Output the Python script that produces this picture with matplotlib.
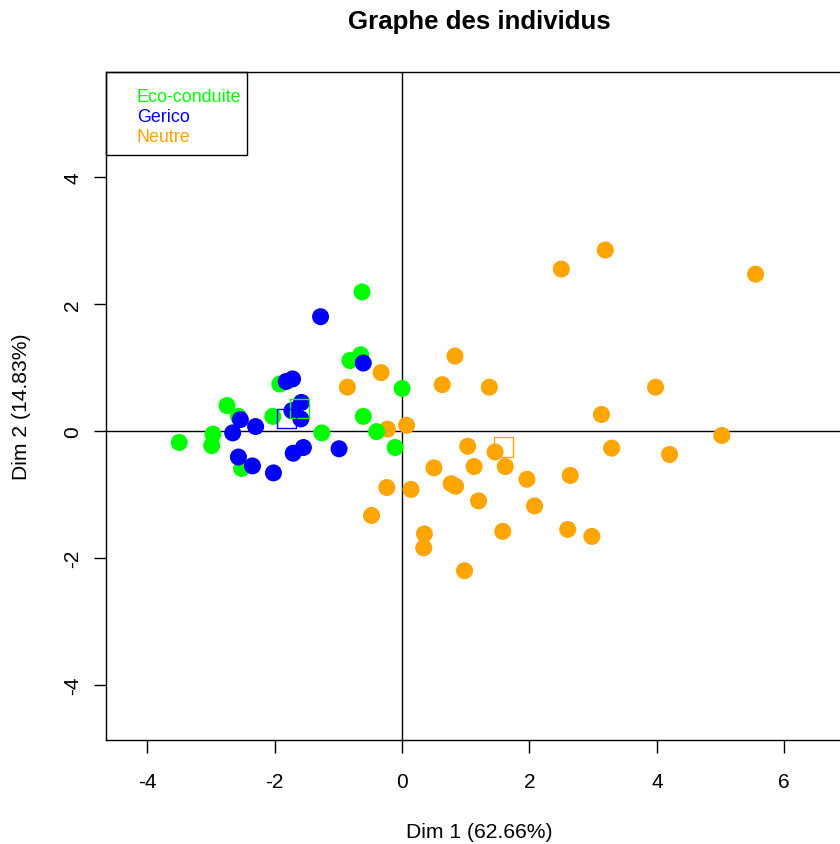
import numpy as np
import matplotlib.pyplot as plt
from matplotlib.patches import Rectangle

plt.rcParams['font.family'] = ['Liberation Sans', 'DejaVu Sans']
plt.rcParams['axes.unicode_minus'] = False

# individual coordinates
neutre_x = [0.83, -0.33, -0.86, 0.63, 1.37, 3.13, -0.23, 0.07, 1.03, 1.46, 3.29, 0.50,
            1.13, 1.62, 1.96, 2.64, -0.24, 0.14, 0.77, 0.84, 1.20, 2.08, -0.48, 0.35,
            0.34, 1.58, 2.60, 2.98, 0.98, 3.19, 2.50, 5.55, 3.98, 5.02, 4.20]
neutre_y = [1.18, 0.92, 0.69, 0.73, 0.69, 0.26, 0.03, 0.09, -0.24, -0.33, -0.27, -0.58,
            -0.56, -0.56, -0.76, -0.70, -0.89, -0.92, -0.83, -0.87, -1.10, -1.18, -1.33, -1.62,
            -1.84, -1.58, -1.55, -1.66, -2.20, 2.85, 2.55, 2.47, 0.69, -0.07, -0.37]

eco_x = [-0.63, -0.82, -0.65, 0.00, -1.92, -2.75, -2.57, -2.03, -0.61, -2.97, -2.99,
         -3.50, -1.26, -0.40, -0.11, -2.52]
eco_y = [2.19, 1.11, 1.20, 0.67, 0.74, 0.40, 0.23, 0.23, 0.23, -0.05, -0.23,
         -0.18, -0.03, -0.01, -0.26, -0.59]

gerico_x = [-1.28, -0.61, -1.82, -1.72, -1.58, -1.73, -1.59, -2.54, -2.30, -2.66, -1.55,
            -1.71, -0.99, -2.57, -2.35, -2.02]
gerico_y = [1.80, 1.07, 0.78, 0.82, 0.45, 0.32, 0.19, 0.18, 0.07, -0.03, -0.26,
            -0.35, -0.28, -0.41, -0.55, -0.66]

groups = ['Eco-conduite', 'Gerico', 'Neutre']
colors = {'Eco-conduite': '#00FF00', 'Gerico': '#0000FF', 'Neutre': '#FFA500'}
data = {'Neutre': (neutre_x, neutre_y),
        'Eco-conduite': (eco_x, eco_y),
        'Gerico': (gerico_x, gerico_y)}

W, H = 840, 845
fig = plt.figure(figsize=(W / 100, H / 100), dpi=100)
left, right, top, bottom = 105.7, 860, 72.7, 741
ax = fig.add_axes([left / W, 1 - bottom / H, (right - left) / W, (bottom - top) / H])

# draw order: Neutre, Eco-conduite, Gerico
for g in ['Neutre', 'Eco-conduite', 'Gerico']:
    x, y = data[g]
    ax.scatter(x, y, s=150, color=colors[g], edgecolors='none', zorder=3)

# group barycentres
for g in groups:
    x, y = data[g]
    ax.scatter(np.mean(x), np.mean(y), s=190, marker='s', facecolors='none',
               edgecolors=colors[g], linewidths=1, zorder=4)

ax.axhline(0, color='black', lw=1, zorder=2)
ax.axvline(0, color='black', lw=1, zorder=2)

ax.set_xlim(-4.654, 7.19)
ax.set_ylim(-4.866, 5.658)
ax.set_xticks([-4, -2, 0, 2, 4, 6])
ax.set_yticks([-4, -2, 0, 2, 4])
ax.tick_params(direction='out', length=9, width=1, labelsize=15, colors='black')
ax.tick_params(axis='x', pad=14)
ax.tick_params(axis='y', pad=8, labelrotation=90)
for lab in ax.get_yticklabels():
    lab.set_va('center')
for sp in ax.spines.values():
    sp.set_linewidth(1)

fig.text(479 / W, 1 - 22 / H, 'Graphe des individus', ha='center', va='center',
         fontsize=18.6, fontweight='bold')
fig.text(479 / W, 1 - 833 / H, 'Dim 1 (62.66%)', ha='center', va='center', fontsize=15.2)
fig.text(22 / W, 1 - 407 / H, 'Dim 2 (14.83%)', ha='center', va='center',
         rotation=90, fontsize=15.2)

# legend box, text only
fig.patches.append(Rectangle((left / W, 1 - 156 / H), (247 - left) / W, (156 - top) / H,
                             transform=fig.transFigure, fill=False, edgecolor='black', lw=1))
for i, g in enumerate(groups):
    fig.text(137 / W, 1 - (97 + 20.5 * i) / H, g, color=colors[g], ha='left',
             va='center', fontsize=12.9)

fig.savefig('out.png', dpi=100)
